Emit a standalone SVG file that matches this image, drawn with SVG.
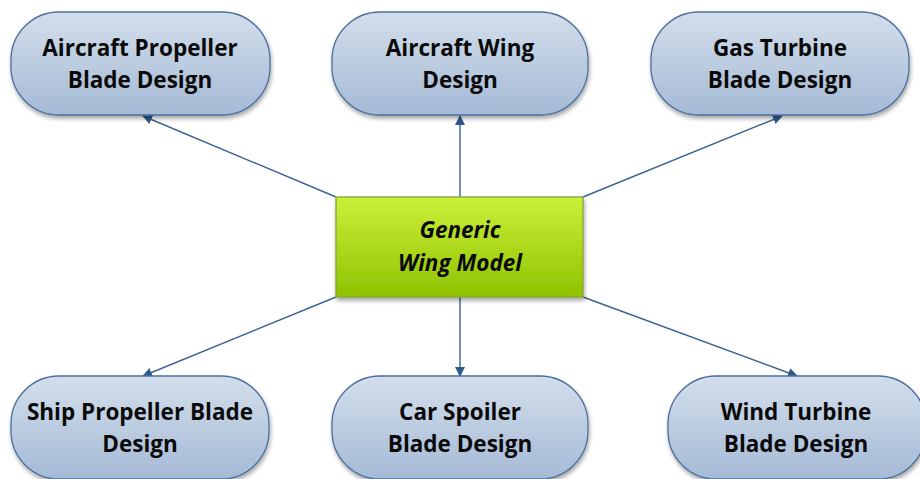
<svg xmlns="http://www.w3.org/2000/svg" width="920" height="479" viewBox="0 0 920 479">
<defs>
<linearGradient id="gBlue" x1="0" y1="0" x2="0" y2="1">
<stop offset="0" stop-color="#d3deeb"/>
<stop offset="1" stop-color="#a5bad6"/>
</linearGradient>
<linearGradient id="gGreen" x1="0" y1="0" x2="0" y2="1">
<stop offset="0" stop-color="#ccf03a"/>
<stop offset="1" stop-color="#8ec200"/>
</linearGradient>
<filter id="sh" x="-10%" y="-10%" width="120%" height="130%">
<feGaussianBlur in="SourceAlpha" stdDeviation="2"/>
<feOffset dx="1" dy="3" result="b"/>
<feComponentTransfer><feFuncA type="linear" slope="0.35"/></feComponentTransfer>
<feMerge><feMergeNode/><feMergeNode in="SourceGraphic"/></feMerge>
</filter>
<marker id="arr" viewBox="0 0 10 10" refX="9" refY="5" markerWidth="10" markerHeight="10" markerUnits="userSpaceOnUse" orient="auto">
<path d="M0,0 L10,5 L0,10 z" fill="#2f5a8c"/>
</marker>
</defs>
<style>
.node{fill:url(#gBlue);stroke:#4a6f9f;stroke-width:1.3;filter:url(#sh)}
.center{fill:url(#gGreen);stroke:#8aa23a;stroke-width:1.3;filter:url(#sh)}
.t{font-family:"Open Sans","Liberation Sans",sans-serif;font-weight:bold;font-size:22.5px;fill:#0a0a0a;text-anchor:middle}
.ti{font-style:italic}
.c{stroke:#3a6394;stroke-width:1.4;fill:none;marker-end:url(#arr)}
</style>
<rect width="920" height="479" fill="#ffffff"/>
<g id="connectors">
<line class="c" x1="336" y1="197" x2="143" y2="116"/>
<line class="c" x1="460" y1="197" x2="460" y2="116"/>
<line class="c" x1="583" y1="197" x2="782" y2="116"/>
<line class="c" x1="336" y1="297" x2="143" y2="376"/>
<line class="c" x1="460" y1="297" x2="460" y2="376"/>
<line class="c" x1="583" y1="297" x2="797" y2="376"/>
</g>
<g id="n-aircraft-propeller">
<rect class="node" x="11" y="12" width="259" height="103" rx="48" ry="48"/>
<text class="t" x="140" y="56">Aircraft Propeller</text>
<text class="t" x="140" y="88">Blade Design</text>
</g>
<g id="n-aircraft-wing">
<rect class="node" x="332" y="12" width="256" height="103" rx="48" ry="48"/>
<text class="t" x="460" y="56">Aircraft Wing</text>
<text class="t" x="460" y="88">Design</text>
</g>
<g id="n-gas-turbine">
<rect class="node" x="651" y="12" width="258" height="103" rx="48" ry="48"/>
<text class="t" x="780" y="56">Gas Turbine</text>
<text class="t" x="780" y="88">Blade Design</text>
</g>
<g id="n-ship-propeller">
<rect class="node" x="11" y="376" width="258" height="103" rx="48" ry="48"/>
<text class="t" x="140" y="420">Ship Propeller Blade</text>
<text class="t" x="140" y="452">Design</text>
</g>
<g id="n-car-spoiler">
<rect class="node" x="332" y="376" width="256" height="103" rx="48" ry="48"/>
<text class="t" x="460" y="420">Car Spoiler</text>
<text class="t" x="460" y="452">Blade Design</text>
</g>
<g id="n-wind-turbine">
<rect class="node" x="668" y="376" width="258" height="103" rx="48" ry="48"/>
<text class="t" x="796" y="420">Wind Turbine</text>
<text class="t" x="796" y="452">Blade Design</text>
</g>
<g id="n-generic">
<rect class="center" x="336" y="197" width="247" height="100"/>
<text class="t ti" x="460" y="238">Generic</text>
<text class="t ti" x="460" y="271">Wing Model</text>
</g>
</svg>
